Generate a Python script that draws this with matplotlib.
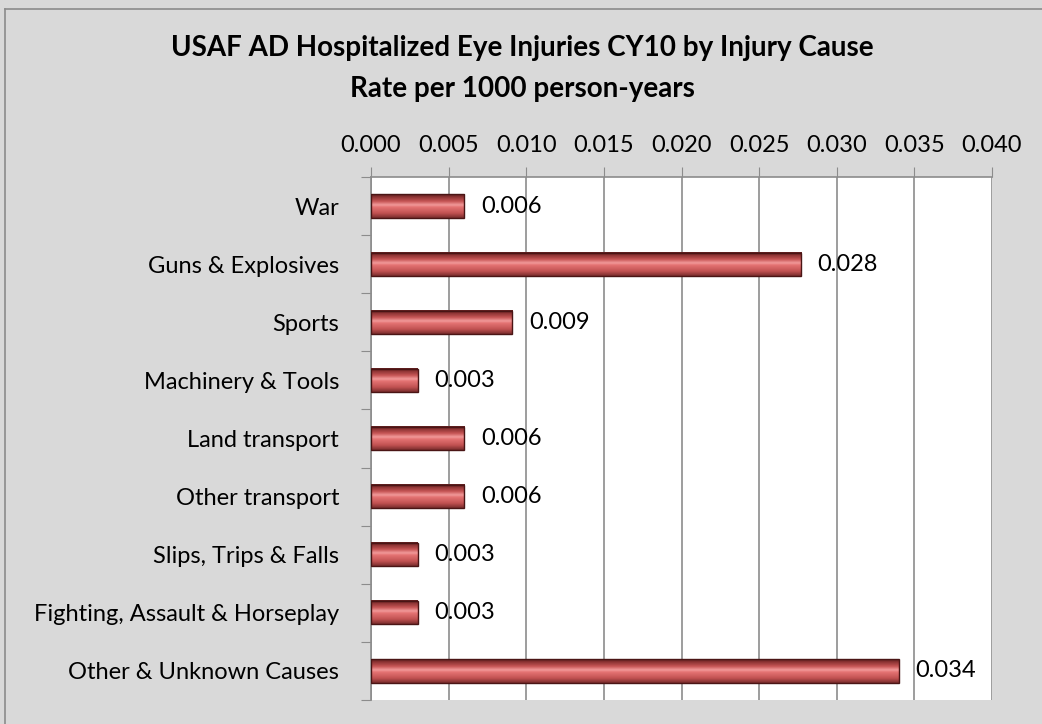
import numpy as np
import matplotlib
matplotlib.use("Agg")
from matplotlib import pyplot as plt
from matplotlib.colors import LinearSegmentedColormap
from matplotlib.patches import Rectangle
from matplotlib.lines import Line2D

causes = ["War", "Guns & Explosives", "Sports", "Machinery & Tools",
          "Land transport", "Other transport", "Slips, Trips & Falls",
          "Fighting, Assault & Horseplay", "Other & Unknown Causes"]
rates = [0.006, 0.0277, 0.0091, 0.003, 0.006, 0.006, 0.003, 0.003, 0.0340]
rate_labels = ["0.006", "0.028", "0.009", "0.003", "0.006", "0.006",
               "0.003", "0.003", "0.034"]
xticks = [0.000, 0.005, 0.010, 0.015, 0.020, 0.025, 0.030, 0.035, 0.040]

plt.rcParams['font.family'] = ['Lato', 'DejaVu Sans']

W, H = 1042, 724
fig = plt.figure(figsize=(W / 100, H / 100), dpi=100)
fig.patch.set_facecolor('#d9d9d9')

# outer chart border
fig.add_artist(Line2D([5 / W, 5 / W], [0, 1 - 9 / H], transform=fig.transFigure,
                      color='#8c8c8c', lw=1.2))
fig.add_artist(Line2D([5 / W, 1], [1 - 9 / H, 1 - 9 / H], transform=fig.transFigure,
                      color='#8c8c8c', lw=1.2))

ax = fig.add_axes([371 / W, 1 - 700 / H, (992 - 371) / W, (700 - 177) / H])
ax.set_facecolor('white')

n = len(causes)
ypos = np.arange(n)
bar_h = 0.40

# bevelled red bar look: vertical gradient
grad = LinearSegmentedColormap.from_list(
    'bar', [(0.0, '#5c1f1f'), (0.12, '#8e3434'), (0.3, '#c65555'),
            (0.45, '#f29a9a'), (0.55, '#e37272'), (0.8, '#c25252'), (1.0, '#7a2d2d')])
g = np.linspace(0, 1, 64).reshape(-1, 1)

for y, v in zip(ypos, rates):
    ax.imshow(g, cmap=grad, aspect='auto', origin='upper',
              extent=[0, v, y + bar_h / 2, y - bar_h / 2], zorder=3,
              interpolation='bilinear')
    ax.add_patch(Rectangle((0, y - bar_h / 2), v, bar_h, fill=False,
                           edgecolor='#4a1515', lw=1.0, zorder=4))

for y, v, lab in zip(ypos, rates, rate_labels):
    ax.annotate(lab, (v, y), xytext=(12, 0), textcoords='offset points',
                va='center', ha='left', fontsize=17, color='black', zorder=5)

ax.set_xlim(0, 0.040)
ax.set_ylim(n - 0.5, -0.5)
ax.xaxis.tick_top()
ax.set_xticks(xticks)
ax.set_xticklabels([f"{t:.3f}" for t in xticks], fontsize=17)
ax.tick_params(axis='x', length=7, color='#8c8c8c', pad=8, top=True, bottom=False)
ax.grid(axis='x', color='#8c8c8c', lw=1.2, zorder=1)

ax.set_yticks(np.arange(n + 1) - 0.5, minor=False)
ax.set_yticklabels([])
ax.set_yticks(ypos, minor=True)
ax.set_yticklabels(causes, minor=True, fontsize=17)
ax.tick_params(axis='y', which='major', length=7, color='#8c8c8c')
ax.tick_params(axis='y', which='minor', length=0, pad=23)

for s in ['right', 'bottom']:
    ax.spines[s].set_visible(False)
for s in ['top', 'left']:
    ax.spines[s].set_color('#8c8c8c')
    ax.spines[s].set_linewidth(1.2)

fig.text(0.501, 1 - 48 / H, "USAF AD Hospitalized Eye Injuries CY10 by Injury Cause",
         ha='center', va='center', fontsize=20, fontweight='bold')
fig.text(0.501, 1 - 89 / H, "Rate per 1000 person-years",
         ha='center', va='center', fontsize=20, fontweight='bold')

fig.savefig('out.png', dpi=100, facecolor=fig.get_facecolor())
